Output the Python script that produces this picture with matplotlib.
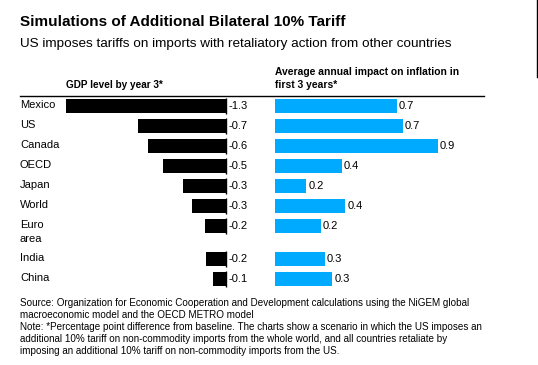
import matplotlib
matplotlib.use('Agg')
import matplotlib.pyplot as plt
from matplotlib.lines import Line2D
from matplotlib.transforms import blended_transform_factory

plt.rcParams['font.family'] = ['Liberation Sans', 'DejaVu Sans']

# data
countries = ['Mexico', 'US', 'Canada', 'OECD', 'Japan', 'World', 'Euro\narea', 'India', 'China']
gdp_values = [-1.28, -0.70, -0.62, -0.50, -0.34, -0.27, -0.17, -0.16, -0.10]
gdp_labels = ['-1.3', '-0.7', '-0.6', '-0.5', '-0.3', '-0.3', '-0.2', '-0.2', '-0.1']
infl_values = [0.66, 0.69, 0.88, 0.36, 0.17, 0.38, 0.25, 0.27, 0.31]
infl_labels = ['0.7', '0.7', '0.9', '0.4', '0.2', '0.4', '0.2', '0.3', '0.3']

W, H = 538, 365
fig = plt.figure(figsize=(W / 100, H / 100), dpi=100)


def fx(px):
    return px / W


def fy(py):
    return 1 - py / H


# row positions (two-line label gets extra room)
ypos = []
y = 0.0
for c in countries:
    ypos.append(y)
    y += 1.0 + (0.65 if '\n' in c else 0)

top_px, bot_px = 96, 290
ylim = (9.2, -0.5)

# left panel: gdp
ax1 = fig.add_axes([fx(50), fy(bot_px), fx(260 - 50), (bot_px - top_px) / H])
ax1.barh(ypos, gdp_values, height=0.7, color='black')
ax1.vlines([0] * len(ypos), [p - 0.38 for p in ypos], [p + 0.38 for p in ypos], color='black', lw=1)
ax1.set_xlim(-(226 - 50) / 125, (260 - 226) / 125)
ax1.set_ylim(*ylim)
for p, lab in zip(ypos, gdp_labels):
    ax1.text(0.022, p, lab, va='center', ha='left', fontsize=8)

# right panel: inflation
ax2 = fig.add_axes([fx(270), fy(bot_px), fx(484 - 270), (bot_px - top_px) / H])
ax2.barh(ypos, infl_values, height=0.7, color='#00aaff')
ax2.set_xlim(-5 / 185, 209 / 185)
ax2.set_ylim(*ylim)
for p, v, lab in zip(ypos, infl_values, infl_labels):
    ax2.text(v + 0.01, p, lab, va='center', ha='left', fontsize=8)

for ax in (ax1, ax2):
    ax.axis('off')

# country labels
lab_tr = blended_transform_factory(fig.transFigure, ax1.transData)
for p, c in zip(ypos, countries):
    ax1.text(fx(20), p - 0.28, c, transform=lab_tr,
             va='top', ha='left', fontsize=8, linespacing=1.45)

# titles
fig.text(fx(20), fy(22.5), 'Simulations of Additional Bilateral 10% Tariff',
         fontsize=11, fontweight='bold', va='center', ha='left')
fig.text(fx(20), fy(43.5), 'US imposes tariffs on imports with retaliatory action from other countries',
         fontsize=9.7, va='center', ha='left')
fig.text(fx(66), fy(85), 'GDP level by year 3*', fontsize=7.2, fontweight='bold', va='center', ha='left')
fig.text(fx(275), fy(78.5), 'Average annual impact on inflation in\nfirst 3 years*', fontsize=7.35,
         fontweight='bold', va='center', ha='left', linespacing=1.38)

# rule under headers and stray edge line
fig.add_artist(Line2D([fx(20), fx(484)], [fy(96), fy(96)], color='black', lw=1))
fig.add_artist(Line2D([fx(537), fx(537)], [fy(0), fy(77)], color='black', lw=1))

note = ('Source: Organization for Economic Cooperation and Development calculations using the NiGEM global\n'
        'macroeconomic model and the OECD METRO model\n'
        'Note: *Percentage point difference from baseline. The charts show a scenario in which the US imposes an\n'
        'additional 10% tariff on non-commodity imports from the whole world, and all countries retaliate by\n'
        'imposing an additional 10% tariff on non-commodity imports from the US.')
fig.text(fx(20), fy(298.5), note, fontsize=7.08, va='top', ha='left', linespacing=1.25)

fig.savefig('out.png', dpi=100)
